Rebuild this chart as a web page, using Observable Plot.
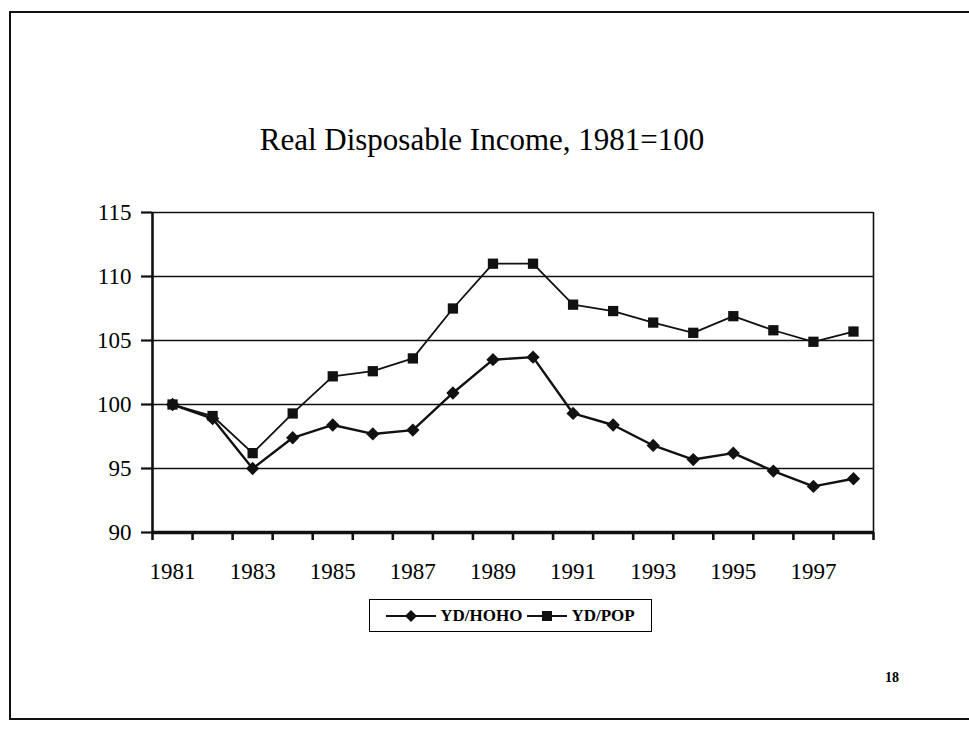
<!DOCTYPE html>
<html>
<head>
<meta charset="utf-8">
<script src="https://cdn.jsdelivr.net/npm/d3@7"></script>
<script src="https://cdn.jsdelivr.net/npm/@observablehq/plot@0.6"></script>
<style>
  html, body { margin: 0; padding: 0; background: #fff; }
  #page { position: relative; width: 969px; height: 730px; overflow: hidden; font-family: "Liberation Serif", "Times New Roman", serif; color: #000; }
  #frame { position: absolute; left: 9px; top: 11px; width: 980px; height: 705px; border-left: 2px solid #111; border-top: 2px solid #111; border-bottom: 2px solid #111; }
  #title { position: absolute; left: 0; top: 122px; width: 964px; text-align: center; font-size: 31px; line-height: normal; white-space: nowrap; }
  #chart { position: absolute; left: 0; top: 190px; }
  #legend { position: absolute; left: 369px; top: 599px; width: 281px; height: 31px; border: 1.5px solid #000; display: flex; align-items: center; justify-content: center; gap: 5px; font-weight: bold; font-size: 17px; }
  #legend .item { display: flex; align-items: center; gap: 4px; }
  #pageno { position: absolute; left: 885px; top: 670px; font-weight: bold; font-size: 14px; }
</style>
</head>
<body>
<div id="page">
  <div id="frame"></div>
  <div id="title">Real Disposable Income, 1981=100</div>
  <div id="chart"></div>
  <div id="legend"></div>
  <div id="pageno">18</div>
</div>
<script>
// ---- data ----
const years = [1981, 1982, 1983, 1984, 1985, 1986, 1987, 1988, 1989, 1990, 1991, 1992, 1993, 1994, 1995, 1996, 1997, 1998];
const ydHoho = [100.0, 98.9, 95.0, 97.4, 98.4, 97.7, 98.0, 100.9, 103.5, 103.7, 99.3, 98.4, 96.8, 95.7, 96.2, 94.8, 93.6, 94.2];
const ydPop = [100.0, 99.1, 96.2, 99.3, 102.2, 102.6, 103.6, 107.5, 111.0, 111.0, 107.8, 107.3, 106.4, 105.6, 106.9, 105.8, 104.9, 105.7];
const seriesNames = ["YD/HOHO", "YD/POP"];
const xTickLabels = [1981, 1983, 1985, 1987, 1989, 1991, 1993, 1995, 1997];
const yTicks = [90, 95, 100, 105, 110, 115];

const hoho = years.map((year, i) => ({year, value: ydHoho[i]}));
const pop = years.map((year, i) => ({year, value: ydPop[i]}));
// category boundaries (tick marks sit between years)
const boundaries = years.map(y => y - 0.5).concat([years[years.length - 1] + 0.5]);
const xDomain = [boundaries[0], boundaries[boundaries.length - 1]];

const chart = Plot.plot({
  width: 969,
  height: 410,
  marginLeft: 152,
  marginRight: 96,
  marginTop: 22,
  marginBottom: 68,
  x: {domain: xDomain},
  y: {domain: [yTicks[0], yTicks[yTicks.length - 1]]},
  style: {fontFamily: "Liberation Serif, Times New Roman, serif", fontSize: "23px", color: "#000", background: "transparent", overflow: "visible"},
  marks: [
    Plot.ruleY(yTicks, {stroke: "#111", strokeWidth: 1.6}),
    Plot.ruleX([xDomain[1]], {stroke: "#111", strokeWidth: 1.6}),
    Plot.ruleX([xDomain[0]], {stroke: "#111", strokeWidth: 2.6}),
    Plot.ruleY([yTicks[0]], {stroke: "#111", strokeWidth: 3.5}),
    Plot.axisY({ticks: yTicks, tickSize: 11, tickPadding: 10, tickFormat: d => String(d), label: null, stroke: "#111", strokeWidth: 2.2, fontSize: 23}),
    Plot.axisX({ticks: boundaries, tickSize: 8, tickFormat: () => "", label: null, stroke: "#111", strokeWidth: 2.6}),
    Plot.axisX({ticks: xTickLabels, tickSize: 0, tickPadding: 30, tickFormat: d => String(d), label: null, fontSize: 23}),
    Plot.line(hoho, {x: "year", y: "value", stroke: "#111", strokeWidth: 2.4}),
    Plot.dot(hoho, {x: "year", y: "value", symbol: "diamond2", r: 6, fill: "#111", stroke: "none"}),
    Plot.line(pop, {x: "year", y: "value", stroke: "#111", strokeWidth: 1.8}),
    Plot.dot(pop, {x: "year", y: "value", symbol: "square", r: 5.8, fill: "#111", stroke: "none"})
  ]
});
document.getElementById("chart").appendChild(chart);

// ---- legend ----
const legend = document.getElementById("legend");
const symbols = ["diamond", "square"];
seriesNames.forEach((name, i) => {
  const item = document.createElement("div");
  item.className = "item";
  const ns = "http://www.w3.org/2000/svg";
  const svg = document.createElementNS(ns, "svg");
  const w = i === 0 ? 50 : 40;
  svg.setAttribute("width", w);
  svg.setAttribute("height", 16);
  const line = document.createElementNS(ns, "line");
  line.setAttribute("x1", 0); line.setAttribute("x2", w);
  line.setAttribute("y1", 8); line.setAttribute("y2", 8);
  line.setAttribute("stroke", "#111"); line.setAttribute("stroke-width", 2);
  svg.appendChild(line);
  const c = w / 2;
  const m = document.createElementNS(ns, "path");
  if (symbols[i] === "diamond") m.setAttribute("d", `M${c-6},8L${c},2L${c+6},8L${c},14Z`);
  else m.setAttribute("d", `M${c-5},3h10v10h-10Z`);
  m.setAttribute("fill", "#111");
  svg.appendChild(m);
  item.appendChild(svg);
  const t = document.createElement("span");
  t.textContent = name;
  item.appendChild(t);
  legend.appendChild(item);
});
</script>
</body>
</html>
